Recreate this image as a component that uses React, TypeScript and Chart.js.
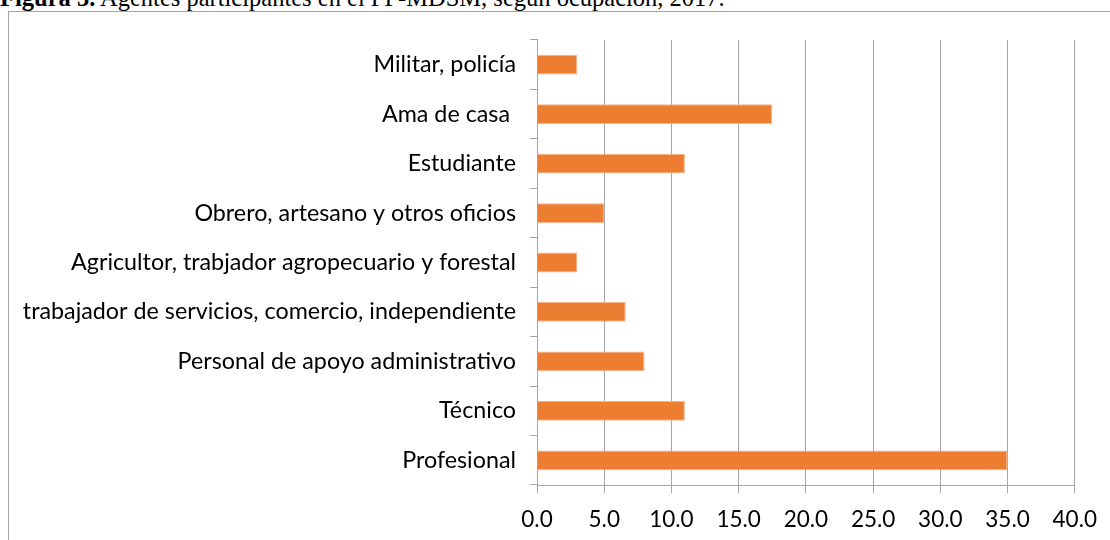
import React, { useEffect, useRef } from "react";
import { Chart, registerables } from "chart.js";

Chart.register(...registerables);

const categories = [
  "Militar, policía",
  "Ama de casa ",
  "Estudiante",
  "Obrero, artesano y otros oficios",
  "Agricultor, trabjador agropecuario y forestal",
  "trabajador de servicios, comercio, independiente",
  "Personal de apoyo administrativo",
  "Técnico",
  "Profesional",
];
const values = [3.0, 17.5, 11.0, 5.0, 3.0, 6.6, 8.0, 11.0, 35.0];
const xTicks = [0, 5, 10, 15, 20, 25, 30, 35, 40];

const FONT = "Lato";
const GRID = "#A6A6A6";

export default function App() {
  const ref = useRef<HTMLCanvasElement | null>(null);
  useEffect(() => {
    if (!ref.current) return;
    const chart = new Chart(ref.current, {
      type: "bar",
      data: {
        labels: categories,
        datasets: [
          {
            data: values,
            backgroundColor: "#ED7D31",
            borderColor: "#F5B48A",
            borderWidth: 1,
            barPercentage: 0.4,
            categoryPercentage: 1,
          },
        ],
      },
      options: {
        indexAxis: "y",
        responsive: false,
        animation: false,
        layout: { padding: { top: 25, right: 35, bottom: 0, left: 0 } },
        plugins: { legend: { display: false }, tooltip: { enabled: false } },
        scales: {
          x: {
            min: 0,
            max: 40,
            afterBuildTicks: (s: any) => {
              s.ticks = xTicks.map((v) => ({ value: v }));
            },
            afterFit: (s: any) => {
              s.height = 55;
            },
            ticks: {
              color: "#000",
              font: { family: FONT, size: 22.5 },
              padding: 13,
              maxRotation: 0,
              callback: (v: any) => Number(v).toFixed(1),
            },
            grid: { color: GRID, lineWidth: 1, tickLength: 8, drawTicks: true },
            border: { color: GRID, width: 1 },
          },
          y: {
            afterFit: (s: any) => {
              s.width = 528;
            },
            ticks: {
              color: "#000",
              font: { family: FONT, size: 23.3 },
              padding: 14,
            },
            grid: {
              offset: true,
              drawOnChartArea: false,
              color: GRID,
              tickLength: 7,
            },
            border: { color: GRID, width: 1 },
          },
        },
      },
    });
    return () => chart.destroy();
  }, []);

  return (
    <div style={{ position: "fixed", left: 0, top: 0, width: 1110, height: 540, background: "#fff", overflow: "hidden" }}>
      <div
        style={{
          position: "absolute",
          left: 0,
          top: -15,
          fontFamily: "'Liberation Serif', 'Times New Roman', serif",
          fontSize: 24.5,
          lineHeight: "25px",
          whiteSpace: "nowrap",
          color: "#000",
        }}
      >
        <b>Figura 3.</b> Agentes participantes en el PP-MDSM, según ocupación, 2017.
      </div>
      <div
        style={{
          position: "absolute",
          left: 8,
          top: 11,
          width: 1200,
          height: 600,
          borderLeft: "1px solid #A6A6A6",
          borderTop: "1px solid #A6A6A6",
        }}
      />
      <canvas
        ref={ref}
        width={1101}
        height={528}
        style={{ position: "absolute", left: 9, top: 12, width: 1101, height: 528 }}
      />
    </div>
  );
}
